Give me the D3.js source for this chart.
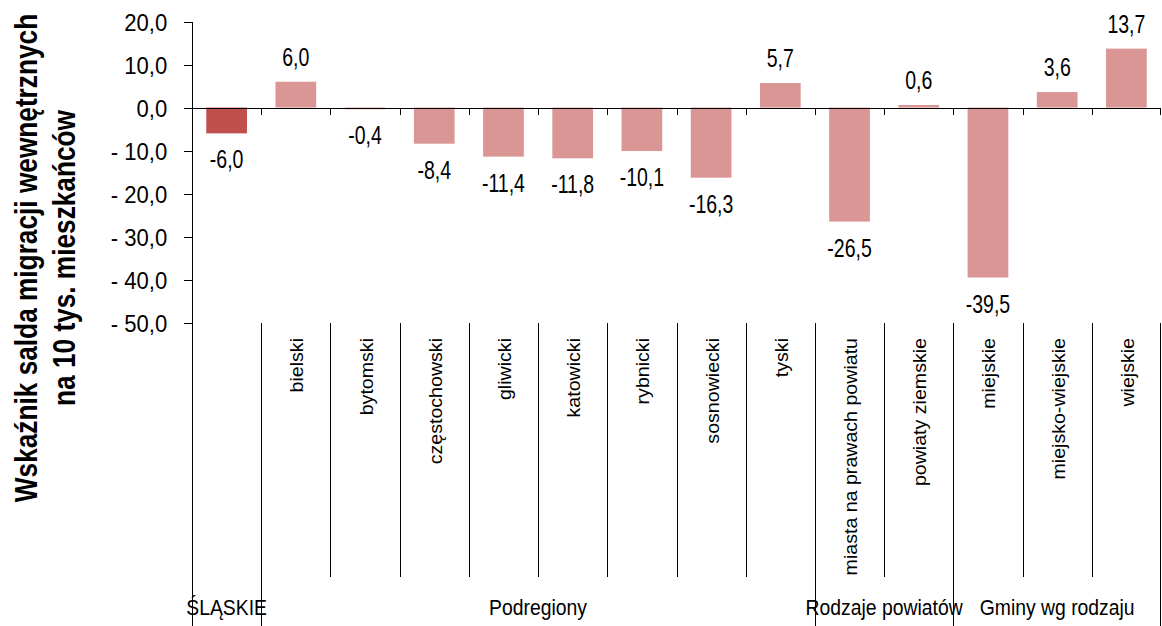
<!DOCTYPE html>
<html>
<head>
<meta charset="utf-8">
<script src="https://cdn.jsdelivr.net/npm/d3@7"></script>
<style>
  html, body { margin: 0; padding: 0; background: #fff; }
  svg { display: block; }
  text { font-family: "Liberation Sans", Arial, sans-serif; fill: #000; }
</style>
</head>
<body>
<svg id="chart" width="1162" height="626"></svg>
<script>
// ---- data ----
const categories = ["ŚLĄSKIE", "bielski", "bytomski", "częstochowski", "gliwicki", "katowicki",
  "rybnicki", "sosnowiecki", "tyski", "miasta na prawach powiatu", "powiaty ziemskie",
  "miejskie", "miejsko-wiejskie", "wiejskie"];
const values = [-6.0, 6.0, -0.4, -8.4, -11.4, -11.8, -10.1, -16.3, 5.7, -26.5, 0.6, -39.5, 3.6, 13.7];
const groupNames = ["ŚLĄSKIE", "Podregiony", "Rodzaje powiatów", "Gminy wg rodzaju"];
const groupSizes = [1, 8, 2, 3];
const yTickValues = [20, 10, 0, -10, -20, -30, -40, -50];
const titleLines = ["Wskaźnik salda migracji wewnętrznych", "na 10 tys. mieszkańców"];

// ---- layout ----
const svg = d3.select("#chart");
const pLeft = 192, pRight = 1161, pTop = 21.5, pBottom = 322.7;
const x = d3.scaleBand().domain(d3.range(categories.length)).range([pLeft, pRight]).padding(0);
const y = d3.scaleLinear().domain([-50, 20]).range([pBottom, pTop]);
const bw = x.bandwidth();
const barW = bw / 1.7;
const fmt = v => {
  const s = Math.abs(v).toFixed(1).replace(".", ",");
  return v < 0 ? "-" + s : s;
};
const tickFmt = v => {
  const s = Math.abs(v).toFixed(1).replace(".", ",");
  return v < 0 ? "- " + s : s;
};
const crisp = v => Math.round(v) + 0.5;

// group info per category
const groupStart = [];
let acc = 0;
groupSizes.forEach(n => { groupStart.push(acc); acc += n; });
const groupOf = [];
groupSizes.forEach((n, g) => { for (let k = 0; k < n; k++) groupOf.push(g); });
const groupBoundaries = new Set(groupStart.concat([categories.length]));

// ---- y axis ----
const yAxis = d3.axisLeft(y).tickValues(yTickValues).tickFormat(tickFmt)
  .tickSize(9).tickSizeOuter(0).tickPadding(16);
const gy = svg.append("g").attr("transform", `translate(${crisp(pLeft)},0)`).call(yAxis);
gy.select(".domain").remove();
gy.selectAll(".tick line").attr("stroke", "#000").attr("shape-rendering", "crispEdges");
gy.selectAll(".tick text")
  .attr("font-size", 23)
  .attr("font-family", "'Liberation Sans', Arial, sans-serif")
  .attr("dy", null)
  .attr("x", null)
  .attr("fill", "#000")
  .attr("transform", "translate(-25.3,8.5) scale(0.96,1)");

// y axis line extended to bottom
svg.append("line")
  .attr("x1", crisp(pLeft)).attr("x2", crisp(pLeft))
  .attr("y1", y(20)).attr("y2", 626)
  .attr("stroke", "#000").attr("shape-rendering", "crispEdges");

// ---- bars ----
svg.append("g").selectAll("rect").data(values).join("rect")
  .attr("x", (d, i) => x(i) + (bw - barW) / 2)
  .attr("width", barW)
  .attr("y", d => y(Math.max(0, d)))
  .attr("height", d => Math.abs(y(d) - y(0)))
  .attr("fill", (d, i) => i === 0 ? "#C0504D" : "#D99694");

// ---- zero line with boundary ticks ----
svg.append("line")
  .attr("x1", pLeft).attr("x2", pRight)
  .attr("y1", crisp(y(0))).attr("y2", crisp(y(0)))
  .attr("stroke", "#000").attr("shape-rendering", "crispEdges");
const bIdx = d3.range(1, categories.length + 1);
const bPos = i => (i < categories.length ? crisp(x(i)) : crisp(pRight) - 1);
svg.append("g").selectAll("line").data(bIdx).join("line")
  .attr("x1", bPos).attr("x2", bPos)
  .attr("y1", y(0)).attr("y2", y(0) + 7.5)
  .attr("stroke", "#000").attr("shape-rendering", "crispEdges");

// ---- value labels ----
svg.append("g").selectAll("text").data(values).join("text")
  .attr("text-anchor", "middle")
  .attr("font-size", 25)
  .attr("transform", (d, i) => {
    const cx = x(i) + bw / 2;
    const by = d >= 0 ? y(d) - 16 : y(d) + 35;
    return `translate(${cx},${by}) scale(0.78,1)`;
  })
  .text(d => fmt(d));

// ---- category separators ----
svg.append("g").selectAll("line").data(bIdx).join("line")
  .attr("x1", bPos).attr("x2", bPos)
  .attr("y1", pBottom)
  .attr("y2", i => groupBoundaries.has(i) ? 626 : 577)
  .attr("stroke", "#000").attr("shape-rendering", "crispEdges");

// ---- sub-category labels (rotated) ----
svg.append("g").selectAll("text")
  .data(categories.map((c, i) => ({ c, i })).filter(d => groupSizes[groupOf[d.i]] > 1))
  .join("text")
  .attr("text-anchor", "end")
  .attr("font-size", 18.5)
  .attr("transform", d => `translate(${x(d.i) + bw / 2 + 7.5},338) rotate(-90) scale(1.06,1)`)
  .text(d => d.c);

// ---- group labels ----
svg.append("g").selectAll("text").data(groupNames).join("text")
  .attr("text-anchor", "middle")
  .attr("font-size", 22)
  .attr("transform", (g, gi) => {
    const s = groupStart[gi], n = groupSizes[gi];
    const cx = x(s) + (n * bw) / 2;
    return `translate(${cx},614.5) scale(0.88,1)`;
  })
  .text(g => g);

// ---- y title ----
svg.append("g").selectAll("text").data(titleLines).join("text")
  .attr("text-anchor", "middle")
  .attr("font-size", 32)
  .attr("font-weight", "bold")
  .attr("transform", (t, i) => `translate(${i === 0 ? 36.7 : 75},258) rotate(-90) scale(0.82,1)`)
  .text(t => t);
</script>
</body>
</html>
